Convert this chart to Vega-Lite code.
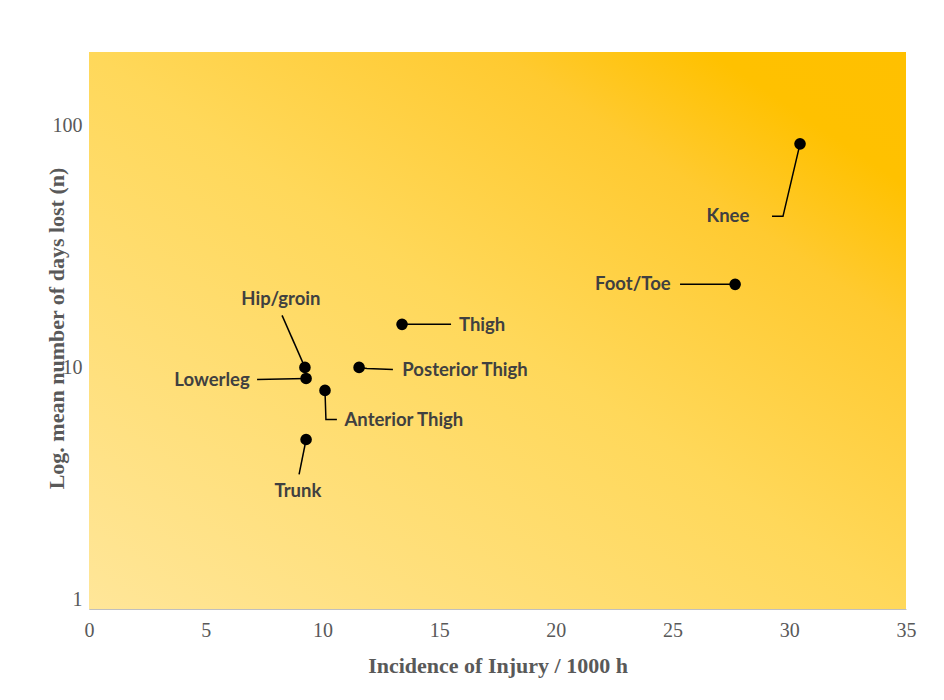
{
  "$schema": "https://vega.github.io/schema/vega-lite/v6.json",
  "width": 817,
  "height": 557,
  "autosize": {"type": "none"},
  "padding": {"left": 89, "top": 52, "right": 38, "bottom": 91},
  "background": "#ffffff",
  "config": {
    "view": {"stroke": null},
    "axis": {
      "grid": false,
      "ticks": false,
      "domainColor": "#BFBFBF",
      "domainWidth": 1,
      "labelFont": "Liberation Serif",
      "labelFontSize": 20,
      "labelColor": "#595959",
      "titleFont": "Liberation Serif",
      "titleFontSize": 22,
      "titleFontWeight": "bold",
      "titleColor": "#595959"
    }
  },
  "datasets": {
    "points": [
      {"part": "Knee", "incidence": 30.46, "days": 84.2, "lx": 27.37, "ly": 42.2},
      {"part": "Foot/Toe", "incidence": 27.68, "days": 22.07, "lx": 23.3, "ly": 22.07},
      {"part": "Thigh", "incidence": 13.41, "days": 15.07, "lx": 16.84, "ly": 14.93},
      {"part": "Posterior Thigh", "incidence": 11.57, "days": 10.0, "lx": 16.11, "ly": 9.72},
      {"part": "Hip/groin", "incidence": 9.25, "days": 10.0, "lx": 8.22, "ly": 19.12},
      {"part": "Lowerleg", "incidence": 9.3, "days": 9.0, "lx": 5.27, "ly": 8.83},
      {"part": "Anterior Thigh", "incidence": 10.11, "days": 8.03, "lx": 13.49, "ly": 6.03},
      {"part": "Trunk", "incidence": 9.3, "days": 5.03, "lx": 8.95, "ly": 3.065}
    ],
    "leaders": [
      {"part": "Knee", "seq": 1, "x": 30.46, "y": 84.2},
      {"part": "Knee", "seq": 2, "x": 29.73, "y": 42.2},
      {"part": "Knee", "seq": 3, "x": 29.26, "y": 42.2},
      {"part": "Foot/Toe", "seq": 1, "x": 25.32, "y": 22.07},
      {"part": "Foot/Toe", "seq": 2, "x": 27.68, "y": 22.07},
      {"part": "Thigh", "seq": 1, "x": 13.41, "y": 15.07},
      {"part": "Thigh", "seq": 2, "x": 15.51, "y": 15.07},
      {"part": "Posterior Thigh", "seq": 1, "x": 11.57, "y": 10.0},
      {"part": "Posterior Thigh", "seq": 2, "x": 11.91, "y": 9.9},
      {"part": "Posterior Thigh", "seq": 3, "x": 13.02, "y": 9.81},
      {"part": "Hip/groin", "seq": 1, "x": 8.27, "y": 16.42},
      {"part": "Hip/groin", "seq": 2, "x": 9.25, "y": 10.0},
      {"part": "Lowerleg", "seq": 1, "x": 7.2, "y": 8.92},
      {"part": "Lowerleg", "seq": 2, "x": 9.3, "y": 9.0},
      {"part": "Anterior Thigh", "seq": 1, "x": 10.11, "y": 8.03},
      {"part": "Anterior Thigh", "seq": 2, "x": 10.15, "y": 6.09},
      {"part": "Anterior Thigh", "seq": 3, "x": 10.62, "y": 6.09},
      {"part": "Trunk", "seq": 1, "x": 9.3, "y": 5.03},
      {"part": "Trunk", "seq": 2, "x": 9.0, "y": 3.605}
    ]
  },
  "layer": [
    {
      "data": {"values": [{}]},
      "mark": {
        "type": "rect",
        "color": {
          "gradient": "linear",
          "x1": 1, "y1": 0, "x2": 0, "y2": 1,
          "stops": [
            {"offset": 0, "color": "#FFC000"},
            {"offset": 0.12, "color": "#FFC100"},
            {"offset": 0.25, "color": "#FFCA30"},
            {"offset": 0.5, "color": "#FFD85A"},
            {"offset": 1, "color": "#FFE699"}
          ]
        }
      },
      "encoding": {
        "x": {"datum": 0, "type": "quantitative", "scale": {"domain": [0, 35], "nice": false, "zero": true},
          "axis": {"title": "Incidence of Injury / 1000 h", "values": [0, 5, 10, 15, 20, 25, 30, 35], "labelFlush": false, "labelPadding": 11, "titleBaseline": "alphabetic", "titleY": 63, "titleX": 408.5}},
        "x2": {"datum": 35},
        "y": {"datum": 1, "type": "quantitative", "scale": {"type": "log", "domain": [1, 202], "nice": false},
          "axis": {"title": "Log. mean number of days lost (n)", "values": [1, 10, 100], "format": "d", "labelFlush": true, "labelPadding": 7, "titleBaseline": "alphabetic", "titleX": -26, "titleY": 276, "titleAngle": 270}},
        "y2": {"datum": 202}
      }
    },
    {
      "data": {"name": "leaders"},
      "mark": {"type": "line", "color": "#000000", "strokeWidth": 1.5},
      "encoding": {
        "x": {"field": "x", "type": "quantitative"},
        "y": {"field": "y", "type": "quantitative"},
        "detail": {"field": "part"},
        "order": {"field": "seq"}
      }
    },
    {
      "data": {"name": "points"},
      "mark": {"type": "circle", "color": "#000000", "opacity": 1, "size": 135},
      "encoding": {
        "x": {"field": "incidence", "type": "quantitative"},
        "y": {"field": "days", "type": "quantitative"}
      }
    },
    {
      "data": {"name": "points"},
      "mark": {"type": "text", "font": "Lato", "fontWeight": "bold", "fontSize": 18.5, "color": "#404040", "align": "center", "baseline": "middle"},
      "encoding": {
        "x": {"field": "lx", "type": "quantitative"},
        "y": {"field": "ly", "type": "quantitative"},
        "text": {"field": "part"}
      }
    }
  ]
}
